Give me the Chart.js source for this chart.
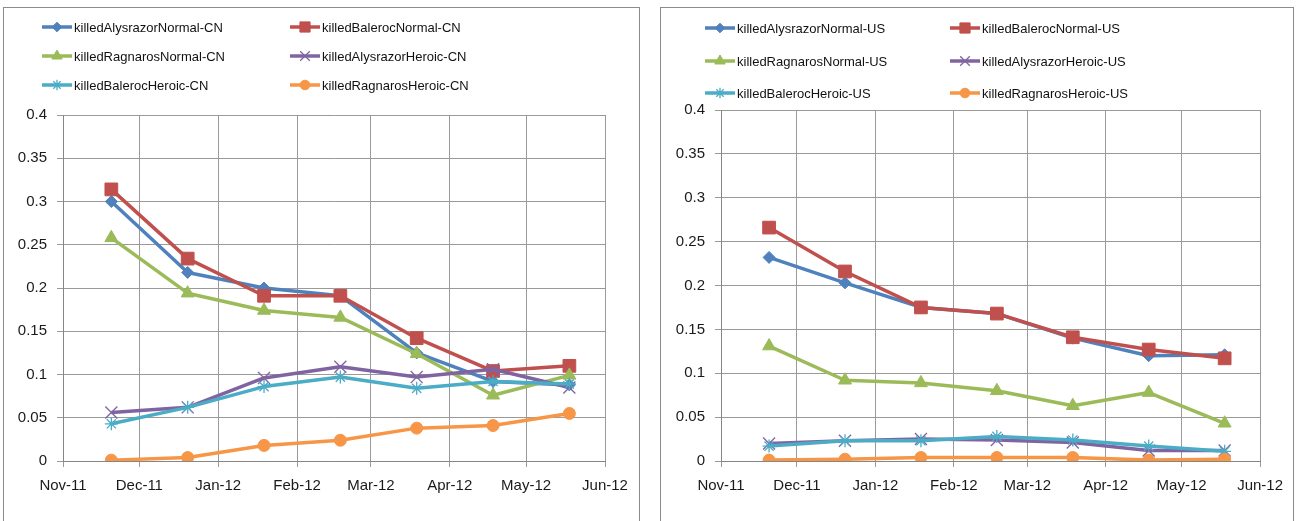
<!DOCTYPE html>
<html>
<head>
<meta charset="utf-8">
<script src="https://cdn.jsdelivr.net/npm/chart.js@4.4.1/dist/chart.umd.min.js"></script>
<style>
  html, body { margin: 0; padding: 0; background: #fff; overflow: hidden; }
  .panel { position: absolute; border: 1px solid #8c8c8c; background: #fff; }
  #p1 { left: 3px; top: 7px; width: 635px; height: 520px; }
  #p2 { left: 660px; top: 7px; width: 632px; height: 520px; }
  canvas { display: block; }
</style>
</head>
<body>
<div class="panel" id="p1"><canvas id="cn" width="635" height="513"></canvas></div>
<div class="panel" id="p2"><canvas id="us" width="632" height="513"></canvas></div>
<script>
// Snapshot dates (one per month) and month tick labels
const sampleDates = ['2011-11-20', '2011-12-20', '2012-01-19', '2012-02-18', '2012-03-19', '2012-04-18', '2012-05-18'];
const monthStarts = ['2011-11-01', '2011-12-01', '2012-01-01', '2012-02-01', '2012-03-01', '2012-04-01', '2012-05-01', '2012-06-01'];
const monthLabels = ['Nov-11', 'Dec-11', 'Jan-12', 'Feb-12', 'Mar-12', 'Apr-12', 'May-12', 'Jun-12'];

const seriesNames = ['killedAlysrazorNormal', 'killedBalerocNormal', 'killedRagnarosNormal',
                     'killedAlysrazorHeroic', 'killedBalerocHeroic', 'killedRagnarosHeroic'];

// CN region
const cnAlysrazorNormal = [0.300, 0.218, 0.200, 0.191, 0.125, 0.092, 0.088];
const cnBalerocNormal   = [0.314, 0.234, 0.191, 0.191, 0.142, 0.104, 0.110];
const cnRagnarosNormal  = [0.258, 0.194, 0.174, 0.166, 0.124, 0.076, 0.099];
const cnAlysrazorHeroic = [0.056, 0.062, 0.096, 0.109, 0.097, 0.106, 0.085];
const cnBalerocHeroic   = [0.043, 0.062, 0.086, 0.097, 0.084, 0.092, 0.089];
const cnRagnarosHeroic  = [0.001, 0.004, 0.018, 0.024, 0.038, 0.041, 0.055];

// US region
const usAlysrazorNormal = [0.232, 0.203, 0.175, 0.168, 0.140, 0.120, 0.121];
const usBalerocNormal   = [0.266, 0.216, 0.175, 0.168, 0.141, 0.127, 0.117];
const usRagnarosNormal  = [0.131, 0.092, 0.089, 0.080, 0.063, 0.078, 0.043];
const usAlysrazorHeroic = [0.020, 0.023, 0.025, 0.024, 0.021, 0.012, 0.012];
const usBalerocHeroic   = [0.017, 0.023, 0.023, 0.028, 0.024, 0.017, 0.011];
const usRagnarosHeroic  = [0.001, 0.002, 0.004, 0.004, 0.004, 0.001, 0.002];

// Series styling: colour and marker
const seriesStyles = [
  { color: '#4F81BD', pointStyle: 'rectRot',  radius: 6,   border: 1 },
  { color: '#C0504D', pointStyle: 'rect',     radius: 9,   border: 1 },
  { color: '#9BBB59', pointStyle: 'triangle', radius: 7.5, border: 1 },
  { color: '#8064A2', pointStyle: 'crossRot', radius: 8.5, border: 1.3 },
  { color: '#4BACC6', pointStyle: 'star',     radius: 6.5, border: 1.3 },
  { color: '#F79646', pointStyle: 'circle',   radius: 6,   border: 1 }
];

const FONT = "'Liberation Sans', Arial, sans-serif";
Chart.defaults.font.family = FONT;
Chart.defaults.color = '#1a1a1a';

const DAY = 86400000;
const origin = Date.parse(monthStarts[0]);
const dayOf = s => (Date.parse(s) - origin) / DAY;

// Two-column legend drawn above the plot area
const gridLegend = {
  id: 'gridLegend',
  afterDraw(chart, args, opts) {
    const ctx = chart.ctx;
    ctx.save();
    chart.data.datasets.forEach((ds, i) => {
      const x = opts.cols[i % 2];
      const y = opts.rows[Math.floor(i / 2)];
      const st = seriesStyles[i];
      ctx.strokeStyle = st.color;
      ctx.lineWidth = 3.5;
      ctx.lineCap = 'butt';
      ctx.beginPath();
      ctx.moveTo(x, y);
      ctx.lineTo(x + 30, y);
      ctx.stroke();
      ctx.fillStyle = st.color;
      ctx.lineWidth = st.border;
      Chart.helpers.drawPoint(ctx, { pointStyle: st.pointStyle, radius: st.radius * 0.8, rotation: 0, borderWidth: st.border }, x + 15, y);
      ctx.fillStyle = '#111';
      ctx.font = '13px ' + FONT;
      ctx.textBaseline = 'middle';
      ctx.textAlign = 'left';
      ctx.fillText(ds.label, x + 32, y + 1);
    });
    ctx.restore();
  }
};

function makeChart(id, region, values, box) {
  const datasets = values.map((vals, i) => {
    const st = seriesStyles[i];
    return {
      label: seriesNames[i] + '-' + region,
      data: vals.map((v, k) => ({ x: dayOf(sampleDates[k]), y: v })),
      borderColor: st.color,
      backgroundColor: st.color,
      borderWidth: 3.5,
      borderJoinStyle: 'round',
      tension: 0,
      pointStyle: st.pointStyle,
      pointRadius: st.radius,
      pointBackgroundColor: st.color,
      pointBorderColor: st.color,
      pointBorderWidth: st.border,
      order: values.length - i
    };
  });

  return new Chart(document.getElementById(id), {
    type: 'line',
    data: { datasets },
    plugins: [gridLegend],
    options: {
      responsive: false,
      animation: false,
      events: [],
      layout: { padding: { top: box.top, right: box.right, left: 0, bottom: 0 } },
      plugins: {
        legend: { display: false },
        tooltip: { enabled: false },
        gridLegend: { cols: box.legendCols, rows: box.legendRows }
      },
      scales: {
        x: {
          type: 'linear',
          min: dayOf(monthStarts[0]),
          max: dayOf(monthStarts[monthStarts.length - 1]),
          afterBuildTicks: scale => { scale.ticks = monthStarts.map(d => ({ value: dayOf(d) })); },
          afterFit: scale => { scale.height = box.xHeight; },
          ticks: {
            autoSkip: false,
            maxRotation: 0,
            padding: 10,
            font: { size: 15 },
            color: '#1a1a1a',
            callback: (v, idx) => monthLabels[idx]
          },
          grid: { color: '#9a9a9a', lineWidth: 1, tickLength: 6, drawTicks: true },
          border: { color: '#868686', width: 1 }
        },
        y: {
          min: 0,
          max: 0.4,
          afterFit: scale => { scale.width = box.yWidth; },
          ticks: {
            stepSize: 0.05,
            padding: 10,
            font: { size: 15 },
            color: '#1a1a1a',
            callback: v => String(+v.toFixed(2))
          },
          grid: { color: '#9a9a9a', lineWidth: 1, tickLength: 6, drawTicks: true },
          border: { color: '#868686', width: 1 }
        }
      }
    }
  });
}

makeChart('cn', 'CN',
  [cnAlysrazorNormal, cnBalerocNormal, cnRagnarosNormal, cnAlysrazorHeroic, cnBalerocHeroic, cnRagnarosHeroic],
  { top: 107, right: 34, yWidth: 59, xHeight: 60, legendCols: [38, 286], legendRows: [19, 48, 77] });

makeChart('us', 'US',
  [usAlysrazorNormal, usBalerocNormal, usRagnarosNormal, usAlysrazorHeroic, usBalerocHeroic, usRagnarosHeroic],
  { top: 102, right: 31, yWidth: 60, xHeight: 60, legendCols: [44, 289], legendRows: [20, 53, 85] });
</script>
</body>
</html>
